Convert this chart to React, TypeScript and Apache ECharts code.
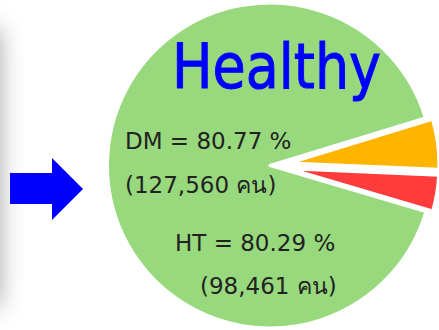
import React, { useEffect, useRef } from "react";
import * as echarts from "echarts";

// Pie slices (share of people, %), drawn clockwise from the start angle
const categories = ["Risk", "Sick", "Healthy"];
const sliceShares = [5.4, 3.9, 90.7];
const sliceColors = ["#FFB400", "#FF3C3C", "#98D97E"];
const explodedSlices = [true, true, false];

// Annotation lines inside the healthy slice
const diseases = ["DM", "HT"];
const healthyPercents = [80.77, 80.29];
const healthyCounts = [127560, 98461];
const unitLabel = "คน";
const titleText = "Healthy";

const W = 439;
const H = 330;

export default function App() {
  const ref = useRef<HTMLDivElement | null>(null);

  useEffect(() => {
    if (!ref.current) return;
    const chart = echarts.init(ref.current, undefined, { renderer: "svg" });

    const center = [270, 165.5];
    const family = "DejaVu Sans";

    // Outer (full-size) ring holds the healthy slice; the exploded ring holds the rest
    const baseData = categories.map((name, i) => ({
      name,
      value: sliceShares[i],
      itemStyle: explodedSlices[i]
        ? { color: "transparent", borderWidth: 0 }
        : { color: sliceColors[i], borderColor: "#fff", borderWidth: 3 },
    }));
    const explodedData = categories.map((name, i) => ({
      name,
      value: sliceShares[i],
      selected: explodedSlices[i],
      itemStyle: explodedSlices[i]
        ? { color: sliceColors[i], borderColor: "#fff", borderWidth: 3 }
        : { color: "transparent", borderWidth: 0 },
      select: {
        itemStyle: explodedSlices[i]
          ? { color: sliceColors[i], borderColor: "#fff", borderWidth: 3 }
          : { color: "transparent", borderWidth: 0 },
      },
    }));

    const pieCommon = {
      type: "pie" as const,
      center,
      startAngle: 17,
      clockwise: true,
      label: { show: false },
      labelLine: { show: false },
      emphasis: { disabled: true },
      avoidLabelOverlap: false,
    };

    const texts: any[] = [];
    const blocks = [
      { x: 125, y1: 141, x2: 125, y2: 185 },
      { x: 175, y1: 243, x2: 200, y2: 286 },
    ];
    const bodyStyle = {
      fill: "#222",
      fontFamily: family,
      fontSize: 23,
      textAlign: "left",
      textVerticalAlign: "middle",
    };
    diseases.forEach((d, i) => {
      const b = blocks[i];
      texts.push({
        type: "text",
        x: b.x,
        y: b.y1,
        z: 100,
        style: { ...bodyStyle, text: `${d} = ${healthyPercents[i].toFixed(2)} %` },
      });
      texts.push({
        type: "text",
        x: b.x2,
        y: b.y2,
        z: 100,
        style: {
          ...bodyStyle,
          text: `(${healthyCounts[i].toLocaleString("en-US")} ${unitLabel})`,
        },
      });
    });

    chart.setOption({
      animation: false,
      backgroundColor: "#fff",
      series: [
        { ...pieCommon, radius: [0, 162.5], data: baseData, silent: true, z: 2 },
        {
          ...pieCommon,
          radius: [0, 149],
          data: explodedData,
          selectedMode: "multiple",
          selectedOffset: 20,
          z: 3,
        },
      ],
      graphic: [
        // soft shadow along the left edge
        {
          type: "rect",
          z: 1,
          shape: { x: -60, y: 30, width: 58, height: 275 },
          style: {
            fill: "#999",
            shadowBlur: 26,
            shadowColor: "rgba(0,0,0,0.4)",
          },
        },
        {
          type: "polygon",
          z: 50,
          shape: {
            points: [
              [10, 173],
              [52, 173],
              [52, 158],
              [83, 189],
              [52, 220],
              [52, 204],
              [10, 204],
            ],
          },
          style: { fill: "#0000FF" },
        },
        {
          type: "text",
          x: 172,
          y: 67,
          z: 100,
          scaleX: 0.87,
          style: {
            text: titleText,
            fill: "#0000FF",
            stroke: "#0000FF",
            lineWidth: 1,
            fontFamily: family,
            fontSize: 62,
            textAlign: "left",
            textVerticalAlign: "middle",
          },
        },
        ...texts,
      ],
    });

    return () => chart.dispose();
  }, []);

  return (
    <div
      ref={ref}
      style={{ position: "fixed", left: 0, top: 0, width: W, height: H }}
    />
  );
}
